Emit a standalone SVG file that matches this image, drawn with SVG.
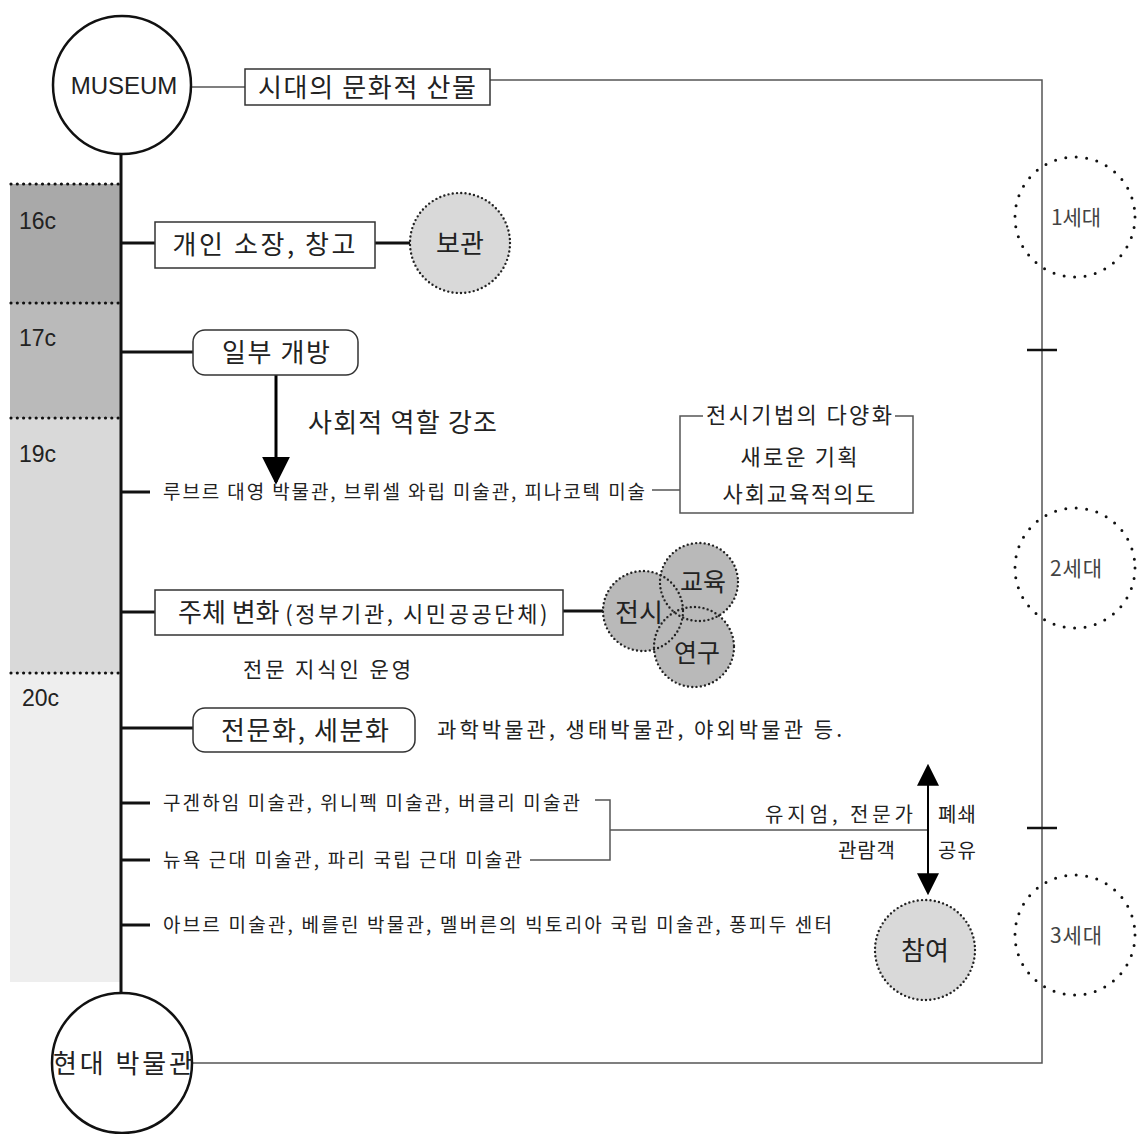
<svg xmlns="http://www.w3.org/2000/svg" width="1139" height="1134" viewBox="0 0 1139 1134">
<defs>
<style>
.k{font-family:"Noto Sans CJK KR","Noto Sans",sans-serif;fill:#222}
.l{font-family:"Liberation Sans",Arial,sans-serif;fill:#222}
.box{fill:#fff;stroke:#333;stroke-width:1.5}
.thin{stroke:#555;stroke-width:1.5;fill:none}
.tl{stroke:#111;stroke-width:3;fill:none}
.dotsep{stroke:#111;stroke-width:3.2;stroke-dasharray:0 6.3;stroke-linecap:round}
.dotc{stroke:#222;stroke-width:2.4;stroke-dasharray:0 4.3;stroke-linecap:round}
.genc{fill:none;stroke:#111;stroke-width:3;stroke-dasharray:0 10.5;stroke-linecap:round}
.gen{font-family:"Noto Sans CJK KR",sans-serif;fill:#444;font-size:21px}
</style>
<marker id="ah" viewBox="0 0 10 10" refX="9" refY="5" markerWidth="28" markerHeight="28" markerUnits="userSpaceOnUse" orient="auto">
<path d="M0,0 L10,5 L0,10 z" fill="#000"/>
</marker>
<marker id="ahs" viewBox="0 0 10 10" refX="9" refY="5" markerWidth="22" markerHeight="22" markerUnits="userSpaceOnUse" orient="auto-start-reverse">
<path d="M0,0 L10,5 L0,10 z" fill="#000"/>
</marker>
</defs>
<rect width="1139" height="1134" fill="#fff"/>

<g id="bands">
<rect x="10" y="184" width="111" height="119" fill="#a9a9a9"/>
<rect x="10" y="303" width="111" height="115" fill="#bababa"/>
<rect x="10" y="418" width="111" height="255" fill="#d9d9d9"/>
<rect x="10" y="673" width="111" height="309" fill="#eeeeee"/>
<line class="dotsep" x1="11" y1="184" x2="120" y2="184"/>
<line class="dotsep" x1="11" y1="303" x2="120" y2="303"/>
<line class="dotsep" x1="11" y1="418" x2="120" y2="418"/>
<line class="dotsep" x1="11" y1="673" x2="120" y2="673"/>
<text class="l" x="19" y="229" font-size="23">16c</text>
<text class="l" x="19" y="346" font-size="23">17c</text>
<text class="l" x="19" y="462" font-size="23">19c</text>
<text class="l" x="22" y="706" font-size="23">20c</text>
</g>

<g id="connectors">
<line class="tl" x1="121" y1="155" x2="121" y2="994"/>
<line class="thin" x1="190" y1="87" x2="245" y2="87"/>
<polyline class="thin" points="490,80 1042,80 1042,1063 192,1063"/>
<line stroke="#111" stroke-width="2.5" x1="1027" y1="350" x2="1057" y2="350"/>
<line stroke="#111" stroke-width="2.5" x1="1027" y1="828" x2="1057" y2="828"/>
<line class="tl" x1="121" y1="243" x2="155" y2="243"/>
<line class="tl" x1="375" y1="243" x2="410" y2="243"/>
<line class="tl" x1="121" y1="352" x2="193" y2="352" stroke-width="2.5"/>
<line stroke="#000" stroke-width="3" x1="276" y1="375" x2="276" y2="482" marker-end="url(#ah)"/>
<line class="tl" x1="121" y1="492" x2="150" y2="492" stroke-width="2.5"/>
<line class="thin" x1="652" y1="490" x2="680" y2="490"/>
<polyline class="thin" points="703,416 680,416 680,513 913,513 913,416 895,416"/>
<line class="tl" x1="121" y1="612" x2="155" y2="612" stroke-width="2.5"/>
<line class="tl" x1="563" y1="611" x2="603" y2="611"/>
<line class="tl" x1="121" y1="728" x2="193" y2="728" stroke-width="2.5"/>
<line class="tl" x1="121" y1="803" x2="150" y2="803" stroke-width="2.5"/>
<line class="tl" x1="121" y1="860" x2="150" y2="860" stroke-width="2.5"/>
<line class="tl" x1="121" y1="925" x2="150" y2="925" stroke-width="2.5"/>
<polyline class="thin" points="595,800 610,800 610,860 530,860"/>
<line class="thin" x1="610" y1="830" x2="928" y2="830"/>
<line stroke="#000" stroke-width="2" x1="928" y1="766" x2="928" y2="893" marker-start="url(#ahs)" marker-end="url(#ahs)"/>
</g>

<g id="museum">
<circle cx="122" cy="85" r="69" fill="#fff" stroke="#111" stroke-width="2.5"/>
<text class="l" x="124" y="94" font-size="24" text-anchor="middle">MUSEUM</text>
</g>
<g id="header">
<rect class="box" x="245" y="69" width="245" height="36"/>
<text class="k" x="367" y="97" font-size="26" text-anchor="middle" textLength="218">시대의 문화적 산물</text>
</g>
<g id="modern">
<circle cx="122" cy="1063" r="70" fill="#fff" stroke="#111" stroke-width="2.5"/>
<text class="k" x="123" y="1073" font-size="26" text-anchor="middle" textLength="140">현대 박물관</text>
</g>

<g id="n16">
<rect class="box" x="155" y="222" width="220" height="46"/>
<text class="k" x="264" y="254" font-size="26" text-anchor="middle" textLength="183">개인 소장, 창고</text>
</g>
<g id="bogwan">
<circle cx="460" cy="243" r="50" fill="#d9d9d9" class="dotc"/>
<text class="k" x="460" y="253" font-size="26" text-anchor="middle">보관</text>
</g>

<g id="n17">
<rect class="box" x="193" y="330" width="165" height="45" rx="12"/>
<text class="k" x="276" y="362" font-size="26" text-anchor="middle" textLength="108">일부 개방</text>
</g>
<g id="social">
<text class="k" x="308" y="432" font-size="26" textLength="189">사회적 역할 강조</text>
</g>

<g id="n19a">
<text class="k" x="163" y="499" font-size="19" textLength="482">루브르 대영 박물관, 브뤼셀 와립 미술관, 피나코텍 미술</text>
</g>
<g id="bracket19">
<text class="k" x="799" y="423" font-size="22" text-anchor="middle" textLength="186">전시기법의 다양화</text>
<text class="k" x="799" y="465" font-size="22" text-anchor="middle" textLength="117">새로운 기획</text>
<text class="k" x="799" y="502" font-size="22" text-anchor="middle" textLength="153">사회교육적의도</text>
</g>

<g id="n19b">
<rect class="box" x="155" y="590" width="408" height="45"/>
<text class="k" x="178" y="622" font-size="26"><tspan>주체 변화 </tspan><tspan font-size="22" letter-spacing="2.6">(정부기관, 시민공공단체)</tspan></text>
</g>
<g id="triad">
<circle cx="643" cy="611" r="40" fill="#b9b9b9"/>
<circle cx="699" cy="582" r="39" fill="#b9b9b9"/>
<circle cx="694" cy="647" r="40" fill="#b9b9b9"/>
<circle cx="643" cy="611" r="40" fill="none" class="dotc" stroke-width="1.8"/>
<circle cx="699" cy="582" r="39" fill="none" class="dotc" stroke-width="1.8"/>
<circle cx="694" cy="647" r="40" fill="none" class="dotc" stroke-width="1.8"/>
<text class="k" x="639" y="622" font-size="26" text-anchor="middle">전시</text>
<text class="k" x="703" y="591" font-size="25" text-anchor="middle">교육</text>
<text class="k" x="697" y="662" font-size="25" text-anchor="middle">연구</text>
</g>
<g id="expert">
<text class="k" x="243" y="677" font-size="21" textLength="168">전문 지식인 운영</text>
</g>

<g id="n20">
<rect class="box" x="193" y="708" width="222" height="44" rx="12"/>
<text class="k" x="305" y="740" font-size="26" text-anchor="middle" textLength="168">전문화, 세분화</text>
<text class="k" x="437" y="737" font-size="21" textLength="405">과학박물관, 생태박물관, 야외박물관 등.</text>
</g>
<g id="n20b">
<text class="k" x="163" y="810" font-size="19" textLength="417">구겐하임 미술관, 위니펙 미술관, 버클리 미술관</text>
<text class="k" x="163" y="867" font-size="19" textLength="359">뉴욕 근대 미술관, 파리 국립 근대 미술관</text>
<text class="k" x="163" y="932" font-size="19" textLength="669">아브르 미술관, 베를린 박물관, 멜버른의 빅토리아 국립 미술관, 퐁피두 센터</text>
</g>
<g id="audience">
<text class="k" x="913" y="822" font-size="20" text-anchor="end" textLength="148">유지엄, 전문가</text>
<text class="k" x="895" y="858" font-size="20" text-anchor="end" textLength="57">관람객</text>
<text class="k" x="938" y="822" font-size="20" textLength="38">폐쇄</text>
<text class="k" x="938" y="858" font-size="20" textLength="38">공유</text>
</g>
<g id="chamyeo">
<circle cx="925" cy="950" r="50" fill="#d9d9d9" class="dotc"/>
<text class="k" x="925" y="960" font-size="26" text-anchor="middle">참여</text>
</g>

<g id="gen1">
<circle class="genc" cx="1075" cy="217" r="60"/>
<text class="gen" x="1076" y="225" text-anchor="middle" textLength="50">1세대</text>
</g>
<g id="gen2">
<circle class="genc" cx="1075" cy="568" r="60"/>
<text class="gen" x="1076" y="576" text-anchor="middle" textLength="52">2세대</text>
</g>
<g id="gen3">
<circle class="genc" cx="1075" cy="935" r="60"/>
<text class="gen" x="1076" y="943" text-anchor="middle" textLength="52">3세대</text>
</g>
</svg>
